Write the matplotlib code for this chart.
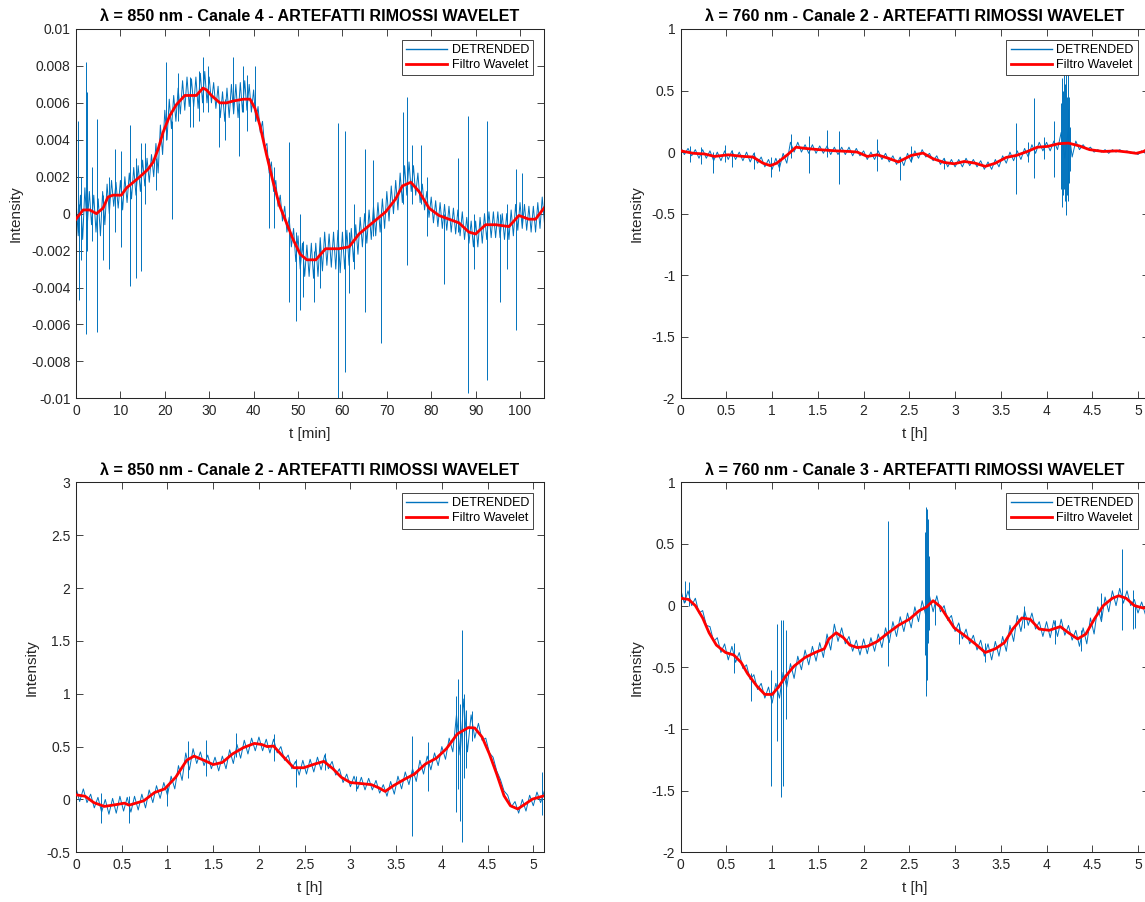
import numpy as np
import matplotlib
matplotlib.use("Agg")
import matplotlib.pyplot as plt
from matplotlib.ticker import FuncFormatter

plt.rcParams['font.family'] = ['Liberation Sans', 'DejaVu Sans']

BLU = '#0072BD'
ROSSO = '#FF0000'
GRIGIO = '#262626'

# --- 850 nm, canale 4 (t in minuti, intensita' in unita' di 1e-4) ---
c4_passo = 0.5
c4_det = [
    8, -12, 10, -14, 14, -8, 12, -6, 10, -10,
    8, -12, 12, -6, 16, 0, 18, 4, 17, 3,
    18, 2, 20, 6, 22, 8, 25, 10, 26, 12,
    29, 15, 30, 17, 32, 20, 38, 22, 48, 32,
    56, 40, 62, 46, 64, 50, 68, 54, 72, 56,
    74, 58, 73, 58, 74, 57, 76, 60, 77, 60,
    74, 60, 71, 57, 69, 52, 66, 50, 68, 52,
    70, 54, 70, 52, 71, 55, 72, 56, 70, 55,
    67, 50, 58, 44, 50, 36, 38, 22, 28, 12,
    18, 4, 10, -4, 4, -10, -2, -18, -8, -26,
    -12, -30, -16, -34, -17, -34, -16, -35, -16, -34,
    -13, -31, -10, -28, -11, -29, -10, -30, -9, -32,
    -10, -30, -9, -28, -8, -26, -6, -22, -2, -18,
    0, -16, 2, -14, 4, -12, 6, -10, 8, -8,
    12, -4, 15, 0, 18, 2, 22, 6, 26, 10,
    28, 12, 26, 10, 22, 6, 16, 2, 12, -2,
    9, -5, 7, -7, 6, -8, 5, -9, 4, -10,
    3, -11, 2, -12, 1, -14, -2, -16, -4, -18,
    -4, -18, -2, -16, 0, -14, 1, -13, 1, -13,
    1, -13, 0, -14, 0, -14, 2, -12, 5, -9,
    6, -8, 5, -9, 4, -10, 4, -10, 6, -8, 9, -5,
]
# picchi: (t, minimo, massimo)
c4_picchi = [(0.4, -10, 50), (0.7, -47, 5), (1.2, -25, 20), (2.2, -65, 82),
             (2.4, -20, 66), (3.5, -15, 25), (4.8, -64, 51), (6.1, -25, 10),
             (7.5, -30, 20), (8.8, -10, 35), (10.2, -18, 34), (12.1, -39, 48),
             (13.4, -35, 30), (14.7, -31, 38), (15.5, 5, 38), (18.0, 13, 30),
             (20.2, 40, 82), (21.6, -3, 50), (23.0, 50, 76), (25.6, 47, 74),
             (26.3, 47, 60), (27.7, 50, 77), (28.6, 55, 85), (29.8, 55, 80),
             (32.3, 36, 60), (33.5, 40, 62), (35.4, 55, 85), (36.8, 31, 60),
             (37.7, 55, 80), (38.6, 45, 75), (40.3, 50, 80), (43.5, -8, 30),
             (44.5, -8, 25), (48.0, -48, 39), (49.6, -58, -10), (50.5, -52, 0),
             (51.2, -45, -15), (53.5, -48, -20), (55.0, -40, -15), (59.0, -100, 49),
             (60.5, -86, 45), (61.5, -43, -10), (62.5, -30, 5), (65.0, -53, 35),
             (67.0, -12, 29), (68.6, -70, 0), (73.7, 5, 55), (74.6, -28, 63),
             (75.75, 5, 37), (77.6, 5, 37), (79.0, -12, 20), (82.9, -38, 0),
             (86.0, -10, 30), (88.3, -97, 53), (89.6, -30, 0), (92.5, -90, 50),
             (92.6, -48, 0), (95.6, -48, 0), (97.0, -30, 5), (99.2, -63, 24),
             (100.5, -5, 22), (105.4, -5, 45)]
c4_t_wav = [0, 1.6, 3.1, 4.6, 6.1, 7.2, 8.3, 10.2, 11.4, 12.9,
            14.4, 16.2, 17.4, 18.5, 19.6, 21.1, 22.6, 24.5, 27.1, 28.6,
            29.4, 30.5, 32.4, 33.9, 35.4, 37.7, 39.2, 40.3, 41.4, 42.9,
            44.4, 45.9, 47.4, 48.9, 50.5, 52, 54, 56.2, 59.2, 61.5,
            63.75, 66.75, 69.75, 72, 73.5, 75.4, 77.25, 79.5, 81.75, 84,
            86.25, 88.5, 90, 92.25, 94.5, 97.5, 99.75, 102, 103.5, 105.4]
c4_wav = [-3, 2, 2, 0, 3, 9, 10, 10, 14, 17,
          20, 24, 28, 35, 44, 53, 59, 64, 64, 68,
          67, 64, 60, 60, 61, 62, 62, 57, 48, 32,
          17, 4, -5, -14, -22, -25, -25, -19, -19, -18,
          -11, -5, 1, 8, 15, 17, 12, 3, -1, -3,
          -5, -10, -11, -6, -6, -7, -1, -3, -3, 3]

# --- canali in ore (intensita' in centesimi), campioni ogni 0.04 h ---
passo_h = 0.04

# 760 nm, canale 2
c2r_det = [
    4, -2, 3, -3, 2, -5, 2, -5, 1, -7,
    0, -7, 1, -6, 1, -6, 0, -7, 0, -8,
    -1, -9, -4, -12, -6, -14, -5, -13, -1, -9,
    8, 0, 8, 0, 6, -1, 6, -1, 5, -1,
    5, -2, 4, -2, 4, -2, 4, -3, 3, -3,
    1, -6, 0, -6, 1, -6, -1, -8, -3, -10,
    -4, -11, -1, -8, 1, -5, 2, -4, -1, -7,
    -3, -10, -5, -12, -6, -12, -6, -12, -5, -11,
    -6, -12, -7, -14, -8, -14, -6, -12, -3, -9,
    0, -7, 1, -6, 3, -4, 6, -1, 8, 1,
    8, 1, 9, 2, 16, -5, 20, -4, 9, 2,
    6, 2, 4, 0, 2, 0, 2, -1, 2, 0,
    2, 0, 1, -1, 0, -2, 1, -1, 4,
]
c2r_picchi = [(0.10, -8, 5), (0.22, -10, 4), (0.35, -17, 0), (0.48, -8, 6),
              (0.56, -12, 2), (0.80, -14, 0), (0.99, -20, -4), (1.07, -15, -5),
              (1.21, -5, 15), (1.40, -17, 13), (1.60, -4, 18), (1.73, -26, 17),
              (2.15, -15, 11), (2.40, -23, -4), (2.52, -8, 5), (2.88, -14, -5),
              (3.67, -34, 24), (3.80, -8, 8), (3.86, -21, 44), (3.97, -6, 12),
              (4.08, -20, 25), (4.16, -30, 40), (4.17, -45, 60), (4.18, -35, 50),
              (4.19, -30, 75), (4.20, -40, 55), (4.21, -51, 70), (4.22, -35, 45),
              (4.23, -40, 65), (4.24, -30, 35), (4.25, -25, 45), (4.26, -15, 20),
              (5.09, -28, 29), (5.11, -26, 30)]
c2r_t_wav = [0, 0.14, 0.26, 0.37, 0.52, 0.68, 0.79, 0.9, 0.98, 1.05,
             1.17, 1.26, 1.36, 1.51, 1.7, 1.85, 1.93, 2.04, 2.15, 2.27,
             2.38, 2.52, 2.65, 2.76, 2.88, 2.99, 3.1, 3.22, 3.33, 3.44,
             3.56, 3.67, 3.79, 3.9, 4.01, 4.13, 4.24, 4.36, 4.47, 4.62,
             4.77, 4.89, 4.98, 5.06, 5.12]
c2r_wav = [1, -1, -1.5, -3.5, -2.2, -3.5, -4, -9, -11, -9,
           -2, 4, 3, 2, 1, 0.5, 0, -3.5, -2.2, -5,
           -8, -2.7, -0.8, -5.4, -8.4, -9.5, -7.6, -9, -11.6, -9,
           -4.3, -2.7, 0.5, 4, 4.6, 6.8, 7.3, 5, 2, 0.5,
           1, 0, -1, 0.5, 3]

# 850 nm, canale 2
c2i_det = [
    11, -2, 10, -3, 5, -8, 2, -12, 0, -14,
    1, -13, 3, -11, 2, -12, 3, -10, 5, -8,
    9, -3, 13, 1, 16, 4, 22, 10, 32, 18,
    44, 28, 48, 34, 45, 32, 42, 29, 40, 27,
    41, 29, 47, 34, 52, 39, 56, 43, 58, 46,
    59, 46, 57, 44, 57, 44, 50, 37, 42, 29,
    36, 23, 37, 24, 38, 26, 40, 28, 42, 29,
    36, 23, 29, 16, 24, 12, 22, 10, 21, 9,
    20, 9, 18, 6, 14, 3, 17, 5, 22, 10,
    26, 14, 29, 17, 37, 24, 41, 28, 44, 32,
    50, 38, 58, 45, 80, 42, 95, 45, 80, 58,
    72, 56, 58, 44, 40, 27, 19, 8, 4, -7,
    -2, -13, 0, -11, 4, -6, 7, -3, 8,
]
c2i_picchi = [(0.27, -22, 6), (0.58, -22, 3), (1.00, -6, 14), (1.23, 20, 55),
              (1.42, 22, 56), (1.75, 40, 63), (2.17, 36, 62), (2.40, 12, 38),
              (2.72, 28, 44), (3.06, 8, 22), (3.67, -35, 60), (3.85, 8, 54),
              (4.16, -12, 98), (4.18, 10, 114), (4.20, -20, 90), (4.22, -40, 160),
              (4.24, 20, 100), (4.26, 30, 85), (4.33, 55, 84), (5.10, -15, 26),
              (5.115, -13, 260)]
c2i_t_wav = [0, 0.1, 0.195, 0.31, 0.43, 0.53, 0.58, 0.74, 0.86, 0.97,
             1.09, 1.21, 1.29, 1.4, 1.5, 1.6, 1.71, 1.83, 1.95, 2.03,
             2.09, 2.16, 2.26, 2.38, 2.49, 2.61, 2.71, 2.81, 2.9, 3.0,
             3.12, 3.23, 3.31, 3.38, 3.47, 3.59, 3.7, 3.82, 3.94, 4.05,
             4.17, 4.29, 4.36, 4.44, 4.52, 4.6, 4.68, 4.75, 4.83, 4.91,
             4.99, 5.12]
c2i_wav = [4.4, 3, -3, -6.6, -5, -3.5, -5.4, -1.3, 6.6, 10,
           21, 37, 41, 37, 33, 35, 43, 49, 53, 52,
           50, 50.5, 41, 30, 30, 33.5, 36, 29, 21, 16,
           15, 14, 11, 7.6, 13, 19, 24, 33.5, 39, 48,
           62, 68, 67.6, 59, 43, 24, 3.5, -6, -9, -4.4,
           0.3, 3.5]

# 760 nm, canale 3
c3r_det = [
    13, 2, 12, 0, 6, -6, -4, -16, -17, -29,
    -26, -38, -31, -44, -33, -46, -38, -51, -48, -60,
    -56, -68, -63, -75, -66, -79, -63, -75, -54, -66,
    -47, -59, -41, -52, -36, -48, -33, -45, -30, -42,
    -23, -36, -15, -29, -18, -31, -25, -37, -28, -40,
    -27, -39, -26, -37, -23, -34, -18, -30, -13, -25,
    -9, -21, -6, -18, -1, -13, 4, -8, 8, -5,
    8, -5, 0, -12, -8, -21, -14, -27, -19, -31,
    -24, -36, -28, -41, -31, -44, -29, -41, -25, -37,
    -16, -29, -8, -21, -4, -16, -6, -19, -13, -25,
    -13, -26, -12, -25, -11, -24, -16, -28, -20, -33,
    -18, -31, -10, -23, -1, -13, 7, -5, 12, 0,
    14, 2, 12, 0, 5, -6, 3, -7, -1,
]
c3r_picchi = [(0.05, 3, 20), (0.09, 0, 19), (0.58, -55, -30), (0.77, -77, -55),
              (0.985, -146, -52), (1.05, -110, -15), (1.10, -155, -12),
              (1.12, -146, -12), (1.15, -92, -20), (2.27, -49, 69),
              (2.67, -40, 60), (2.68, -73, 80), (2.69, -60, 78), (2.70, -30, 70),
              (2.71, -20, 40), (2.78, -16, 5), (3.04, -31, -15), (3.33, -46, -30),
              (3.75, -18, 0), (4.09, -31, -12), (4.38, -37, -20), (4.60, -10, 10),
              (4.83, -20, 46), (4.95, -19, 13), (4.97, -18, 0)]
c3r_t_wav = [0, 0.087, 0.16, 0.24, 0.31, 0.39, 0.49, 0.58, 0.66, 0.73,
             0.83, 0.92, 1.0, 1.07, 1.15, 1.24, 1.36, 1.47, 1.57, 1.62,
             1.7, 1.78, 1.85, 1.93, 2.04, 2.15, 2.27, 2.38, 2.5, 2.61,
             2.69, 2.76, 2.84, 2.91, 2.99, 3.1, 3.22, 3.33, 3.44, 3.54,
             3.63, 3.73, 3.82, 3.92, 4.03, 4.15, 4.24, 4.34, 4.43, 4.53,
             4.62, 4.72, 4.79, 4.87, 4.96, 5.06, 5.12]
c3r_wav = [6, 5, 0, -10, -22, -32, -38, -40, -46, -55,
           -65, -72, -72, -66, -57, -49, -42, -38, -35, -27,
           -22, -26, -32, -34, -33, -29, -22, -16, -11, -4,
           -1, 4, -1, -9, -18, -24, -31, -38, -35, -30,
           -19, -10, -11, -19, -20, -17, -22, -27, -23, -10,
           0, 6, 8, 6, 0, -2, -1]

ore_ticks = [0, 0.5, 1, 1.5, 2, 2.5, 3, 3.5, 4, 4.5, 5]


def disegna(ax, t_det, det, t_wav, wav, scala, picchi):
    ax.plot(t_det, np.array(det) * scala, color=BLU, lw=0.7, label='DETRENDED', zorder=2)
    p = np.array(picchi, dtype=float)
    ax.vlines(p[:, 0], p[:, 1] * scala, p[:, 2] * scala, color=BLU, lw=0.7, zorder=2)
    ax.plot(t_wav, np.array(wav) * scala, color=ROSSO, lw=2, label='Filtro Wavelet', zorder=3)


def imposta(ax, titolo, xlab, xmax, ylim, xticks, yticks, ylab_x, title_pad):
    ax.set_xlim(0, xmax)
    ax.set_ylim(*ylim)
    ax.set_xticks(xticks)
    ax.set_yticks(yticks)
    fmt = FuncFormatter(lambda v, p: '%g' % round(v, 6))
    ax.xaxis.set_major_formatter(fmt)
    ax.yaxis.set_major_formatter(fmt)
    ax.tick_params(direction='in', top=True, right=True, length=5, width=0.6,
                   colors=GRIGIO, labelsize=10, pad=4)
    for s in ax.spines.values():
        s.set_color(GRIGIO)
        s.set_linewidth(0.75)
    ax.set_title(titolo, fontsize=11.6, fontweight='bold', pad=title_pad)
    ax.set_xlabel(xlab, fontsize=11, color=GRIGIO, va='center')
    ax.set_ylabel('Intensity', fontsize=11, color=GRIGIO, va='center')
    ax.xaxis.set_label_coords(0.5, -0.096)
    ax.yaxis.set_label_coords(ylab_x, 0.5)
    leg = ax.legend(loc='upper right', fontsize=9, handlelength=3.3, handletextpad=0.35,
                    labelspacing=0.25, borderpad=0.35, borderaxespad=0.85,
                    fancybox=False, framealpha=1)
    leg.get_frame().set_edgecolor(GRIGIO)
    leg.get_frame().set_linewidth(0.6)
    leg.get_lines()[0].set_linewidth(1.0)


fig = plt.figure(figsize=(11.45, 9.02), dpi=100)
W = 0.40873
ax1 = fig.add_axes([0.06638, 0.55843, W, 0.40942])
ax2 = fig.add_axes([0.59450, 0.55843, W, 0.40942])
ax3 = fig.add_axes([0.06638, 0.05510, W, 0.41020])
ax4 = fig.add_axes([0.59450, 0.05510, W, 0.41020])

t_c4 = np.arange(len(c4_det)) * c4_passo
disegna(ax1, t_c4, c4_det, c4_t_wav, c4_wav, 1e-4, c4_picchi)
imposta(ax1, 'λ = 850 nm - Canale 4 - ARTEFATTI RIMOSSI WAVELET', 't [min]', 105.4,
        (-0.01, 0.01), list(range(0, 101, 10)),
        [-0.01, -0.008, -0.006, -0.004, -0.002, 0, 0.002, 0.004, 0.006, 0.008, 0.01],
        -0.128, 6)

t_h = np.arange(len(c2r_det)) * passo_h
disegna(ax2, t_h, c2r_det, c2r_t_wav, c2r_wav, 0.01, c2r_picchi)
imposta(ax2, 'λ = 760 nm - Canale 2 - ARTEFATTI RIMOSSI WAVELET', 't [h]', 5.117,
        (-2, 1), ore_ticks, [-2, -1.5, -1, -0.5, 0, 0.5, 1], -0.094, 6)

disegna(ax3, t_h, c2i_det, c2i_t_wav, c2i_wav, 0.01, c2i_picchi)
imposta(ax3, 'λ = 850 nm - Canale 2 - ARTEFATTI RIMOSSI WAVELET', 't [h]', 5.117,
        (-0.5, 3), ore_ticks, [-0.5, 0, 0.5, 1, 1.5, 2, 2.5, 3], -0.094, 5)

disegna(ax4, t_h, c3r_det, c3r_t_wav, c3r_wav, 0.01, c3r_picchi)
imposta(ax4, 'λ = 760 nm - Canale 3 - ARTEFATTI RIMOSSI WAVELET', 't [h]', 5.117,
        (-2, 1), ore_ticks, [-2, -1.5, -1, -0.5, 0, 0.5, 1], -0.094, 5)

fig.savefig('out.png', dpi=100, facecolor='white')
